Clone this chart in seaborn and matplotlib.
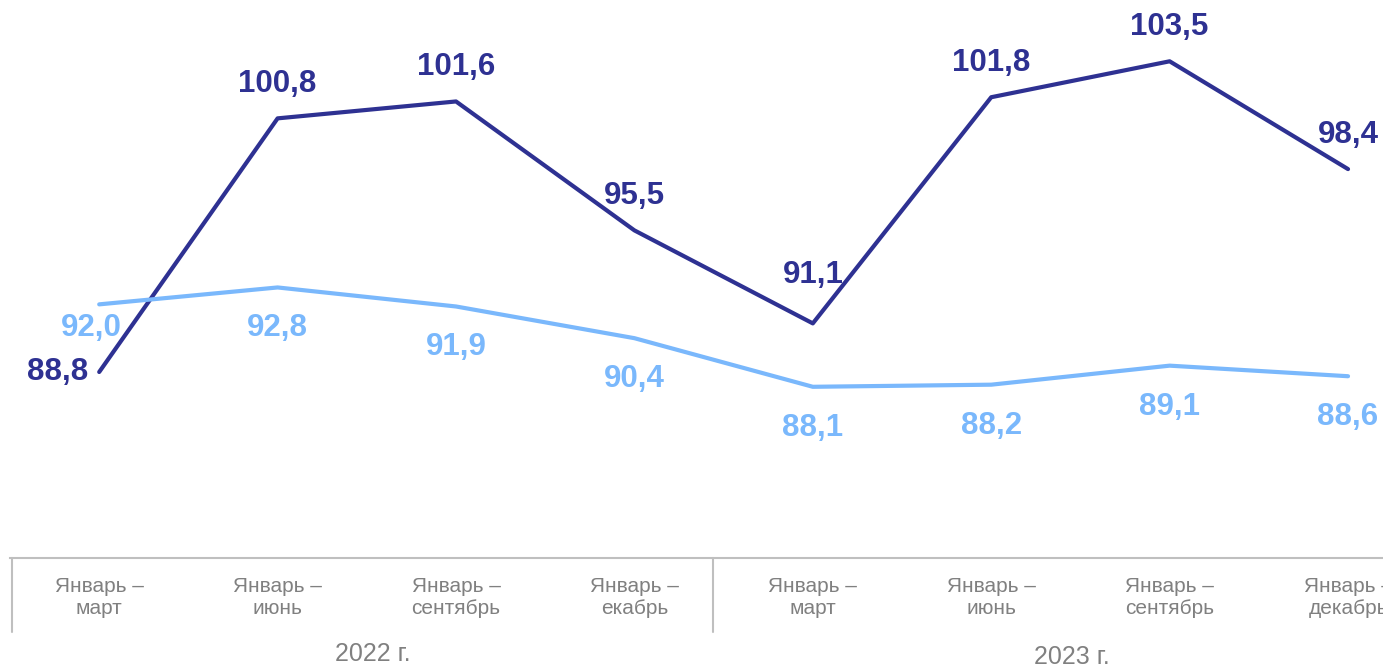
import pandas as pd
import numpy as np
import matplotlib.pyplot as plt
import matplotlib.transforms as mtransforms
import seaborn as sns

periods = ["Январь –\nмарт", "Январь –\nиюнь", "Январь –\nсентябрь", "Январь –\nекабрь",
           "Январь –\nмарт", "Январь –\nиюнь", "Январь –\nсентябрь", "Январь –\nдекабрь"]
years = ["2022 г.", "2023 г."]
dark_vals = [88.8, 100.8, 101.6, 95.5, 91.1, 101.8, 103.5, 98.4]
light_vals = [92.0, 92.8, 91.9, 90.4, 88.1, 88.2, 89.1, 88.6]

dark_col = "#2e3192"
light_col = "#7ab8fc"

sns.set_style("white")
plt.rcParams['font.family'] = ['Liberation Sans', 'DejaVu Sans']

df = pd.DataFrame({
    "x": list(range(len(periods))) * 2,
    "val": dark_vals + light_vals,
    "series": ["dark"] * len(dark_vals) + ["light"] * len(light_vals),
})

W, H = 1383, 669
fig = plt.figure(figsize=(W / 100, H / 100), dpi=100)
ax = fig.add_axes([10 / W, 1 - 558 / H, (W - 10) / W, 558 / H])

sns.lineplot(data=df, x="x", y="val", hue="series", palette={"dark": dark_col, "light": light_col},
             linewidth=3, legend=False, ax=ax)

ax.set_xlim(-0.5, 7.196)
ax.set_ylim(80, 106.4)

fmt = lambda v: f"{v:.1f}".replace(".", ",")

for i, v in enumerate(dark_vals):
    if i == 0:
        ax.annotate(fmt(v), (i, v), xytext=(-8, 0), textcoords="offset points",
                    ha="right", va="center", fontsize=22.5, fontweight="bold", color=dark_col)
    else:
        dy = 35 if i == 4 else 24.5
        ax.annotate(fmt(v), (i, v), xytext=(0, dy), textcoords="offset points",
                    ha="center", va="center", fontsize=22.5, fontweight="bold", color=dark_col)

for i, v in enumerate(light_vals):
    off = (-6, -17) if i == 0 else (0, -29.5)
    ax.annotate(fmt(v), (i, v), xytext=off, textcoords="offset points",
                ha="center", va="center", fontsize=22.5, fontweight="bold", color=light_col)

for s in ["left", "right", "top"]:
    ax.spines[s].set_visible(False)
ax.spines["bottom"].set_color("#bfbfbf")
ax.spines["bottom"].set_linewidth(1.5)

ax.set_yticks([])
ax.set_xticks(range(len(periods)))
ax.set_xticklabels(periods, fontsize=15, color="#808080", linespacing=1.25)
ax.tick_params(axis="x", length=0, pad=13.5)
ax.set_xlabel("")
ax.set_ylabel("")

# group separators
trans = mtransforms.blended_transform_factory(ax.transData, ax.transAxes)
for xs in [-0.49, 3.44]:
    ax.plot([xs, xs], [0, -74 / 558], transform=trans, color="#bfbfbf", lw=1.5, clip_on=False)

fig.text(373 / W, 1 - 654 / H, years[0], ha="center", va="center", fontsize=18, color="#808080")
fig.text(1072 / W, 1 - 657 / H, years[1], ha="center", va="center", fontsize=18, color="#808080")

fig.savefig("out.png", dpi=100)
